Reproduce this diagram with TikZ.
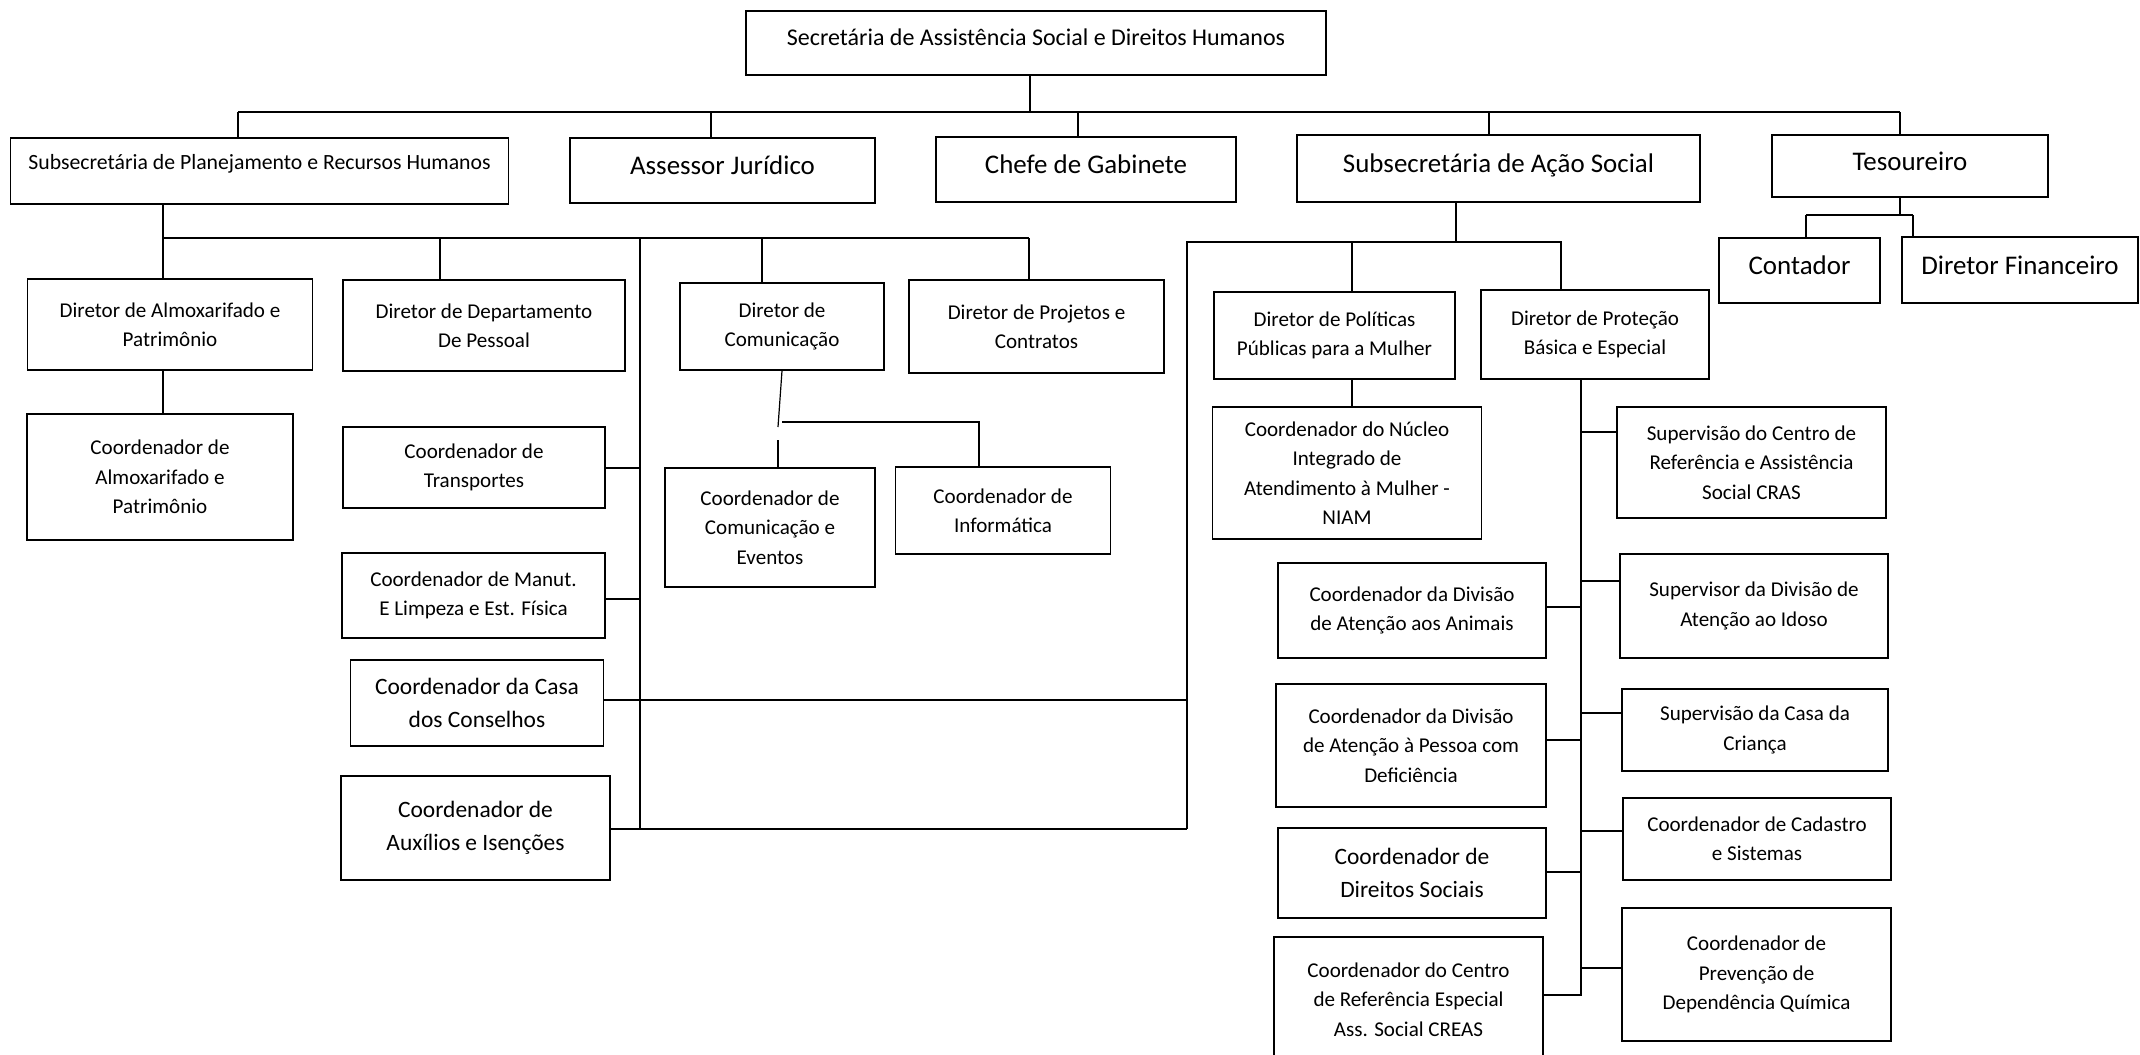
\documentclass[tikz,border=0pt]{standalone}
\usepackage{fontspec}
\setmainfont{Carlito}

\newcommand\fsmall{\fontsize{15.8}{22.1}\selectfont}
\newcommand\fmid{\fontsize{17.6}{24.75}\selectfont}
\newcommand\flarge{\fontsize{20.2}{24.75}\selectfont}
\newcommand\ftop{\fontsize{18}{20}\selectfont}
\newcommand\fplan{\fontsize{16.3}{20}\selectfont}

\begin{document}
\begin{tikzpicture}[x=0.75pt, y=-0.75pt, line width=0.9pt]
    \tikzset{box/.style={draw, line width=1.1pt, align=center, inner sep=0pt, font=\fsmall},
             big/.style={box, font=\flarge, text height=12pt, text depth=5.5pt},
             mid/.style={box, font=\fmid},
             sz/.style 2 args={minimum width=#1*0.75pt, minimum height=#2*0.75pt}};

    \useasboundingbox (0, 0) rectangle (2140, 1054);
    \clip (0, 0) rectangle (2140, 1054);

    % Root
    \path (1036, 43) node [box, font=\ftop, text height=9pt, text depth=6pt, sz={580}{64}] (sec) {Secretária de Assistência Social e Direitos Humanos};

    % Level 1
    \path (259.5, 171) node [box, font=\fplan, text height=6pt, text depth=9pt, sz={498}{66}] (planej) {Subsecretária de Planejamento e Recursos Humanos};
    \path (722.5, 170.5) node [big, sz={305}{65}] (jur) {Assessor Jurídico};
    \path (1086, 169.5) node [big, sz={300}{65}] (chefe) {Chefe de Gabinete};
    \path (1498.5, 168.5) node [big, sz={403}{67}] (acao) {Subsecretária de Ação Social};
    \path (1910, 166) node [big, sz={276}{62}] (tes) {Tesoureiro};

    % Tesoureiro
    \path (1799.5, 270.5) node [big, sz={161}{65}] (cont) {Contador};
    \path (2020, 270) node [big, sz={236}{66}] (fin) {Diretor Financeiro};

    % Planejamento
    \path (170, 324.5) node [box, sz={285}{91}] (almox) {Diretor de Almoxarifado e\\Patrimônio};
    \path (484, 325.5) node [box, sz={282}{91}] (pess) {Diretor de Departamento\\De Pessoal};
    \path (782, 326.5) node [box, sz={204}{87}] (dircom) {Diretor de\\Comunicação};
    \path (1036.5, 326.5) node [box, sz={255}{93}] (proj) {Diretor de Projetos e\\Contratos};
    \path (160, 477) node [box, sz={266}{126}] (calmox) {Coordenador de\\Almoxarifado e\\Patrimônio};
    \path (474, 467.5) node [box, sz={262}{81}] (transp) {Coordenador de\\Transportes};
    \path (473.5, 595.5) node [box, sz={263}{85}] (manut) {Coordenador de Manut.\\E Limpeza e Est. Física};
    \path (477, 703) node [mid, sz={253}{86}] (casa) {Coordenador da Casa\\dos Conselhos};
    \path (475.5, 828) node [mid, sz={269}{104}] (aux) {Coordenador de\\Auxílios e Isenções};
    \path (770, 527.5) node [box, sz={210}{119}] (ccom) {Coordenador de\\Comunicação e\\Eventos};
    \path (1003, 510.5) node [box, sz={215}{87}] (info) {Coordenador de\\Informática};

    % Acao Social
    \path (1334.5, 335.5) node [box, sz={241}{87}] (pol) {Diretor de Políticas\\Públicas para a Mulher};
    \path (1595, 334.5) node [box, sz={228}{89}] (prot) {Diretor de Proteção\\Básica e Especial};
    \path (1347, 473) node [box, sz={269}{132}] (niam) {Coordenador do Núcleo\\Integrado de\\Atendimento à Mulher -\\NIAM};
    \path (1751.5, 462.5) node [box, sz={269}{111}] (cras) {Supervisão do Centro de\\Referência e Assistência\\Social CRAS};
    \path (1412, 610.5) node [box, sz={268}{95}] (anim) {Coordenador da Divisão\\de Atenção aos Animais};
    \path (1754, 606) node [box, sz={268}{104}] (idoso) {Supervisor da Divisão de\\Atenção ao Idoso};
    \path (1411, 745.5) node [box, sz={270}{123}] (defic) {Coordenador da Divisão\\de Atenção à Pessoa com\\Deficiência};
    \path (1755, 730) node [box, sz={266}{82}] (crianca) {Supervisão da Casa da\\Criança};
    \path (1412, 873) node [mid, sz={268}{90}] (dsoc) {Coordenador de\\Direitos Sociais};
    \path (1757, 839) node [box, sz={268}{82}] (cadastro) {Coordenador de Cadastro\\e Sistemas};
    \path (1408.5, 999.5) node [box, sz={269}{125}] (creas) {Coordenador do Centro\\de Referência Especial\\Ass. Social CREAS};
    \path (1756.5, 974.5) node [box, sz={269}{133}] (prev) {Coordenador de\\Prevenção de\\Dependência Química};

    % Edges, top
    \path (1030, 112) coordinate (t0);
    \foreach \i/\x in {1/238, 2/711, 3/1078, 4/1489, 5/1900} { \path (\x, 112) coordinate (t\i); }
    \draw (t0 |- sec.south) -- (t0);
    \draw (t1) -- (t5);
    \foreach \i/\n in {1/planej, 2/jur, 3/chefe, 4/acao, 5/tes} { \draw (t\i) -- (t\i |- \n.north); };

    % Edges, Tesoureiro
    \path (1900, 215) coordinate (f0);
    \path (1806, 215) coordinate (f1);
    \path (1913, 215) coordinate (f2);
    \draw (f0 |- tes.south) -- (f0);
    \draw (f1) -- (f2);
    \draw (f1) -- (f1 |- cont.north);
    \draw (f2) -- (f2 |- fin.north);

    % Edges, Planejamento
    \foreach \i/\x in {1/163, 2/440, 3/762, 4/1029, 5/640} { \path (\x, 238) coordinate (p\i); }
    \draw (p1 |- planej.south) -- (p1) -- (p4);
    \foreach \i/\n in {1/almox, 2/pess, 3/dircom, 4/proj} { \draw (p\i) -- (p\i |- \n.north); };
    \draw (p1 |- almox.south) -- (p1 |- calmox.north);
    \path (640, 830) coordinate (p6);
    \draw (p5) -- (p6);
    \foreach \n/\x/\y in {transp/640/468, manut/640/599, casa/1187/700, aux/1187/829} {
        \path (\x, \y) coordinate (k);
        \draw (k -| \n.east) -- (k);
    };

    % Edges, Comunicacao
    \path (778, 427) coordinate (c1);
    \path (782, 422) coordinate (c2);
    \path (979, 422) coordinate (c3);
    \path (778, 440) coordinate (c4);
    \draw (dircom.south) -- (c1);
    \draw (c2) -- (c3) -- (c3 |- info.north);
    \draw (c4) -- (c4 |- ccom.north);

    % Edges, Acao Social
    \path (1187, 242) coordinate (a0);
    \path (1352, 242) coordinate (a1);
    \path (1561, 242) coordinate (a2);
    \path (1456, 242) coordinate (a3);
    \path (1187, 829) coordinate (a4);
    \draw (a3 |- acao.south) -- (a3);
    \draw (a4) -- (a0) -- (a2) -- (a2 |- prot.north);
    \draw (a1) -- (a1 |- pol.north);
    \draw (a1 |- pol.south) -- (a1 |- niam.north);

    % Edges, Protecao
    \path (1581, 996) coordinate (s1);
    \draw (s1 |- prot.south) -- (s1);
    \foreach \n/\y in {cras/432, idoso/581, crianca/713, cadastro/831, prev/968} {
        \path (1581, \y) coordinate (k);
        \draw (k) -- (k -| \n.west);
    };
    \foreach \n/\y in {anim/607, defic/740, dsoc/872, creas/995} {
        \path (1581, \y) coordinate (k);
        \draw (k -| \n.east) -- (k);
    };
\end{tikzpicture}
\end{document}
